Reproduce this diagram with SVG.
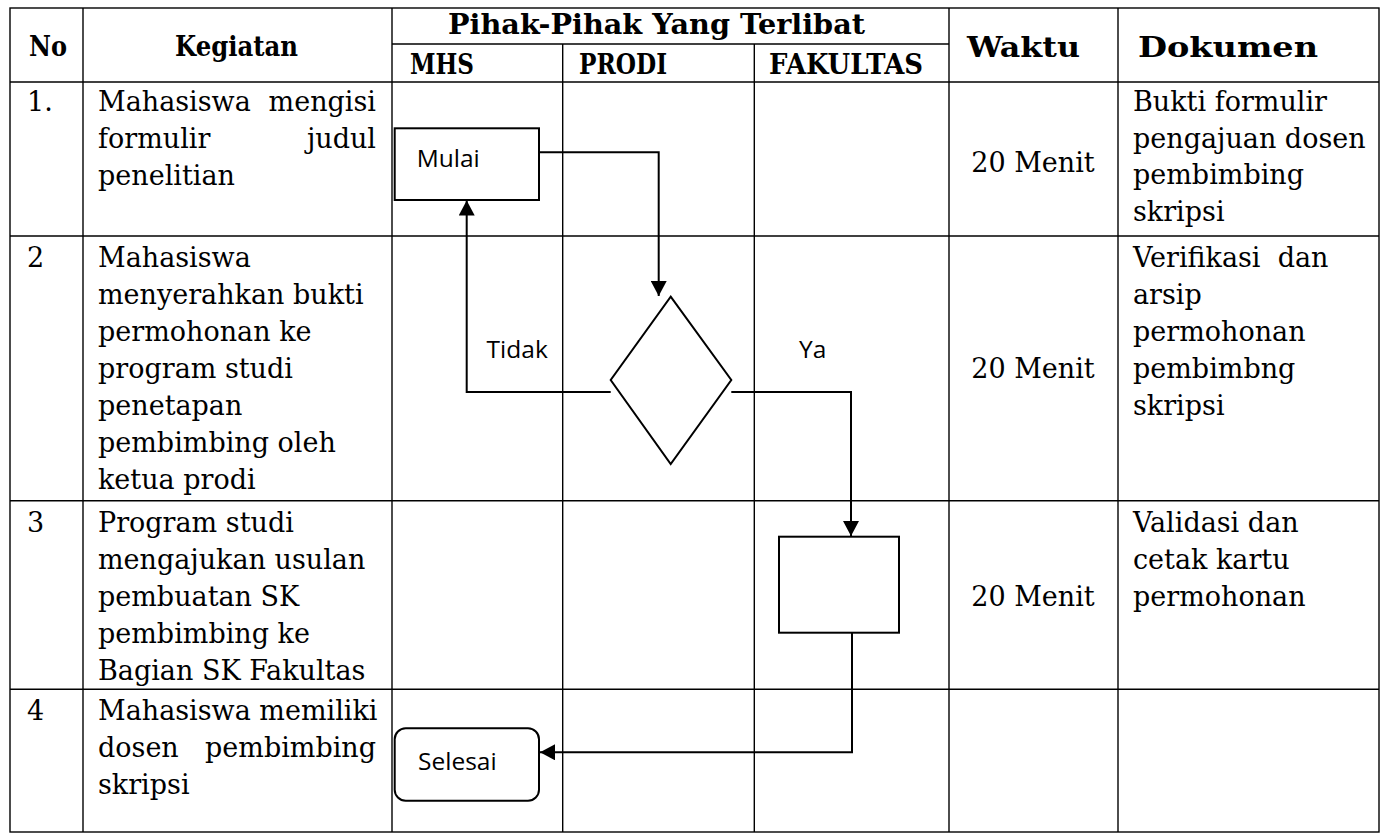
<svg xmlns="http://www.w3.org/2000/svg" width="1384" height="835" viewBox="0 0 1384 835">
<style>
.tl{stroke:#000;stroke-width:1.4;fill:none}
.cn{stroke:#000;stroke-width:2;fill:none}
.nd{stroke:#000;stroke-width:2;fill:#fff}
.b{font-family:"DejaVu Serif","Liberation Serif",serif;font-size:27px;fill:#000}
.h{font-family:"DejaVu Serif","Liberation Serif",serif;font-size:28px;font-weight:bold;fill:#000}
.hs{font-size:27px}
.s{font-family:"Open Sans","Liberation Sans",sans-serif;font-size:24.5px;fill:#000}
.e{text-anchor:end}
.m{text-anchor:middle}
</style>
<defs>
<marker id="ah" viewBox="0 0 15 16" refX="15" refY="8" markerWidth="15" markerHeight="16" markerUnits="userSpaceOnUse" orient="auto">
<path d="M0,0 L15,8 L0,16 Z" fill="#000"/>
</marker>
</defs>
<rect width="1384" height="835" fill="#fff"/>
<g id="table">
<rect class="tl" x="10" y="8" width="1369" height="824"/>
<line class="tl" x1="83" y1="8" x2="83" y2="832"/>
<line class="tl" x1="392" y1="8" x2="392" y2="832"/>
<line class="tl" x1="949" y1="8" x2="949" y2="832"/>
<line class="tl" x1="1118" y1="8" x2="1118" y2="832"/>
<line class="tl" x1="562.7" y1="44" x2="562.7" y2="832"/>
<line class="tl" x1="754.3" y1="44" x2="754.3" y2="832"/>
<line class="tl" x1="392" y1="44" x2="949" y2="44"/>
<line class="tl" x1="10" y1="82" x2="1379" y2="82"/>
<line class="tl" x1="10" y1="236" x2="1379" y2="236"/>
<line class="tl" x1="10" y1="500.7" x2="1379" y2="500.7"/>
<line class="tl" x1="10" y1="689.3" x2="1379" y2="689.3"/>
</g>
<g id="header">
<text class="h" x="29" y="56" textLength="38" lengthAdjust="spacingAndGlyphs">No</text>
<text class="h" x="175" y="56" textLength="123" lengthAdjust="spacingAndGlyphs">Kegiatan</text>
<text class="h" x="448" y="34" textLength="417" lengthAdjust="spacingAndGlyphs">Pihak-Pihak Yang Terlibat</text>
<text class="h hs" x="410" y="74" textLength="64" lengthAdjust="spacingAndGlyphs">MHS</text>
<text class="h hs" x="579" y="74" textLength="88" lengthAdjust="spacingAndGlyphs">PRODI</text>
<text class="h hs" x="769" y="74" textLength="154" lengthAdjust="spacingAndGlyphs">FAKULTAS</text>
<text class="h" x="967" y="57" textLength="113" lengthAdjust="spacingAndGlyphs">Waktu</text>
<text class="h" x="1138" y="57" textLength="180" lengthAdjust="spacingAndGlyphs">Dokumen</text>
</g>
<g id="row1">
<text class="b" x="27" y="111">1.</text>
<text class="b" x="98" y="111">Mahasiswa</text>
<text class="b e" x="376" y="111">mengisi</text>
<text class="b" x="98" y="148">formulir</text>
<text class="b e" x="376" y="148">judul</text>
<text class="b" x="98" y="185">penelitian</text>
<text class="b m" x="1033" y="172">20 Menit</text>
<text class="b" x="1133" y="111">Bukti formulir</text>
<text class="b" x="1133" y="147.5">pengajuan dosen</text>
<text class="b" x="1133" y="184">pembimbing</text>
<text class="b" x="1133" y="220.5">skripsi</text>
</g>
<g id="row2">
<text class="b" x="27" y="267">2</text>
<text class="b" x="98" y="267">Mahasiswa</text>
<text class="b" x="98" y="304">menyerahkan bukti</text>
<text class="b" x="98" y="341">permohonan ke</text>
<text class="b" x="98" y="378">program studi</text>
<text class="b" x="98" y="415">penetapan</text>
<text class="b" x="98" y="452">pembimbing oleh</text>
<text class="b" x="98" y="489">ketua prodi</text>
<text class="b m" x="1033" y="378">20 Menit</text>
<text class="b" x="1133" y="267" xml:space="preserve">Verifikasi  dan</text>
<text class="b" x="1133" y="304">arsip</text>
<text class="b" x="1133" y="341">permohonan</text>
<text class="b" x="1133" y="378">pembimbng</text>
<text class="b" x="1133" y="415">skripsi</text>
</g>
<g id="row3">
<text class="b" x="27" y="532">3</text>
<text class="b" x="98" y="532">Program studi</text>
<text class="b" x="98" y="569">mengajukan usulan</text>
<text class="b" x="98" y="606">pembuatan SK</text>
<text class="b" x="98" y="643">pembimbing ke</text>
<text class="b" x="98" y="680">Bagian SK Fakultas</text>
<text class="b m" x="1033" y="606">20 Menit</text>
<text class="b" x="1133" y="532">Validasi dan</text>
<text class="b" x="1133" y="569">cetak kartu</text>
<text class="b" x="1133" y="606">permohonan</text>
</g>
<g id="row4">
<text class="b" x="27" y="720">4</text>
<text class="b" x="98" y="720">Mahasiswa memiliki</text>
<text class="b" x="98" y="757">dosen</text>
<text class="b e" x="376" y="757">pembimbing</text>
<text class="b" x="98" y="794">skripsi</text>
</g>
<g id="connectors">
<polyline class="cn" points="539,152.3 658.7,152.3 658.7,296" marker-end="url(#ah)"/>
<polyline class="cn" points="610.7,392 466.7,392 466.7,200.5" marker-end="url(#ah)"/>
<polyline class="cn" points="731.3,392 851,392 851,536" marker-end="url(#ah)"/>
<polyline class="cn" points="852,632.7 852,752.3 540,752.3" marker-end="url(#ah)"/>
<text class="s" x="486.6" y="357.7">Tidak</text>
<text class="s" x="799" y="357.7">Ya</text>
</g>
<g id="node-mulai">
<rect class="nd" x="394.7" y="128.3" width="144.3" height="71.7"/>
<text class="s" x="416.7" y="166.7">Mulai</text>
</g>
<g id="node-decision">
<polygon class="nd" points="670.7,296.7 731.3,380 670.7,464 610.7,380"/>
</g>
<g id="node-process">
<rect class="nd" x="779" y="536.7" width="120" height="96"/>
</g>
<g id="node-selesai">
<rect class="nd" x="394.7" y="728.3" width="144.3" height="72.4" rx="11" ry="11"/>
<text class="s" x="418" y="770">Selesai</text>
</g>
</svg>
